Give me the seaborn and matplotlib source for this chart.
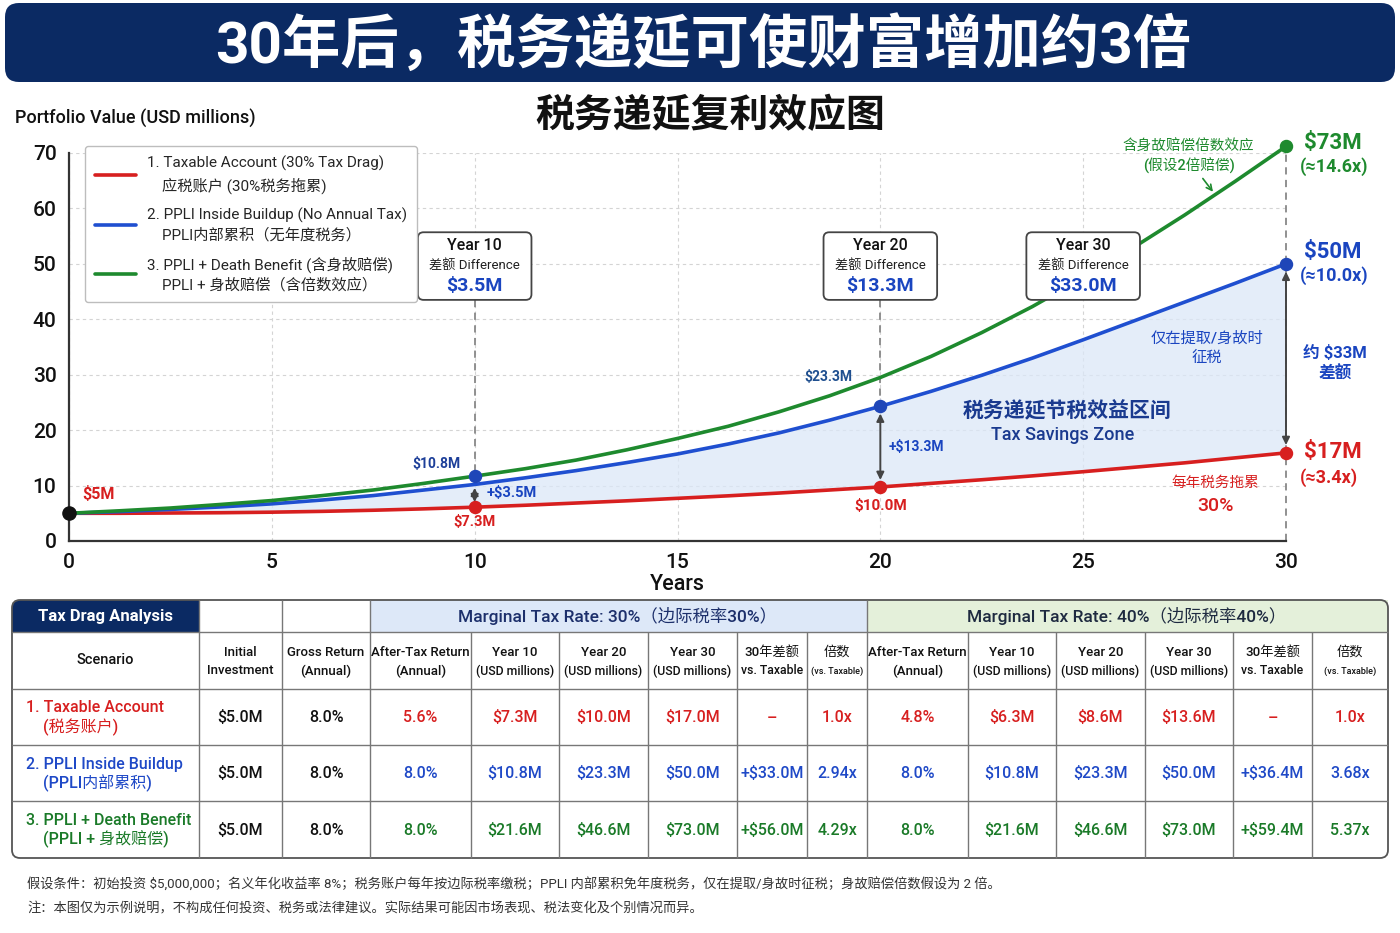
import matplotlib
matplotlib.use("Agg")
import matplotlib.pyplot as plt
import seaborn as sns
from matplotlib.patches import FancyBboxPatch, Rectangle

# curves (USD millions)
years = [0, 1.25, 2.5, 3.75, 5, 6.25, 7.5, 8.75, 10, 11.25, 12.5, 13.75, 15,
         16.25, 17.5, 18.75, 20, 21.25, 22.5, 23.75, 25, 26.25, 27.5, 28.75, 30]
taxable = [5.0, 5.0, 5.05, 5.1, 5.2, 5.35, 5.55, 5.8, 6.1, 6.45, 6.85, 7.25, 7.7,
           8.15, 8.65, 9.2, 9.75, 10.4, 11.05, 11.75, 12.5, 13.3, 14.1, 15.0, 15.9]
ppli = [5.0, 5.3, 5.7, 6.15, 6.7, 7.4, 8.2, 9.2, 10.2, 11.4, 12.7, 14.15, 15.7,
        17.5, 19.5, 21.8, 24.3, 27.0, 29.9, 33.0, 36.3, 39.7, 43.1, 46.5, 50.0]
ppli_db = [5.0, 5.45, 5.95, 6.6, 7.3, 8.2, 9.2, 10.4, 11.7, 13.05, 14.6, 16.45, 18.5,
           20.7, 23.3, 26.2, 29.5, 33.3, 37.6, 42.3, 47.5, 53.0, 58.8, 64.9, 71.2]

# highlighted points
red_pts_x = [10, 20, 30]
red_pts_y = [6.1, 9.75, 15.9]
blue_pts_x = [10, 20, 30]
blue_pts_y = [11.7, 24.3, 50.0]
green_pts_x = [30]
green_pts_y = [71.2]

legend_labels = [
    "1. Taxable Account (30% Tax Drag)\n    应税账户 (30%税务拖累)",
    "2. PPLI Inside Buildup (No Annual Tax)\n    PPLI内部累积（无年度税务）",
    "3. PPLI + Death Benefit (含身故赔偿)\n    PPLI + 身故赔偿（含倍数效应）",
]

box_years = [10, 20, 25]
box_titles = ["Year 10", "Year 20", "Year 30"]
box_diffs = ["$3.5M", "$13.3M", "$33.0M"]

# table contents
scenario_l1 = ["1. Taxable Account", "2. PPLI Inside Buildup", "3. PPLI + Death Benefit"]
scenario_l2 = ["(税务账户)", "(PPLI内部累积)", "(PPLI + 身故赔偿)"]
initial = ["$5.0M", "$5.0M", "$5.0M"]
gross = ["8.0%", "8.0%", "8.0%"]
after_30 = ["5.6%", "8.0%", "8.0%"]
y10_30 = ["$7.3M", "$10.8M", "$21.6M"]
y20_30 = ["$10.0M", "$23.3M", "$46.6M"]
y30_30 = ["$17.0M", "$50.0M", "$73.0M"]
diff_30 = ["–", "+$33.0M", "+$56.0M"]
mult_30 = ["1.0x", "2.94x", "4.29x"]
after_40 = ["4.8%", "8.0%", "8.0%"]
y10_40 = ["$6.3M", "$10.8M", "$21.6M"]
y20_40 = ["$8.6M", "$23.3M", "$46.6M"]
y30_40 = ["$13.6M", "$50.0M", "$73.0M"]
diff_40 = ["–", "+$36.4M", "+$59.4M"]
mult_40 = ["1.0x", "3.68x", "5.37x"]

head_top = ["Initial", "Gross Return", "After-Tax Return", "Year 10", "Year 20", "Year 30",
            "30年差额", "倍数", "After-Tax Return", "Year 10", "Year 20", "Year 30", "30年差额", "倍数"]
head_bot = ["Investment", "(Annual)", "(Annual)", "(USD millions)", "(USD millions)", "(USD millions)",
            "vs. Taxable", "(vs. Taxable)", "(Annual)", "(USD millions)", "(USD millions)",
            "(USD millions)", "vs. Taxable", "(vs. Taxable)"]

RED = "#d71f1f"
BLUE = "#1f4fd0"
GREEN = "#1e8a2e"
NAVY = "#0b2a63"
DBLUE = "#1a3a8f"
TBLUE = "#1a45c0"
row_colors = [RED, "#1f49c7", "#1a7a28"]

sns.set_style("white")
plt.rcParams["font.family"] = ["Roboto", "Noto Sans CJK SC", "DejaVu Sans"]
plt.rcParams["axes.unicode_minus"] = False

fig = plt.figure(figsize=(14, 9.33), dpi=100)

# background layer in pixel units for banner, table and notes
bg = fig.add_axes([0, 0, 1, 1])
bg.set_xlim(0, 1400)
bg.set_ylim(933, 0)
bg.axis("off")

bg.add_patch(FancyBboxPatch((5, 3), 1390, 79, boxstyle="round,pad=0,rounding_size=14",
                            fc=NAVY, ec="none"))
bg.text(703, 45, "30年后，税务递延可使财富增加约3倍", color="white", fontsize=42,
        fontweight="bold", ha="center", va="center")
bg.text(710, 116, "税务递延复利效应图", color="#111", fontsize=28, fontweight="bold",
        ha="center", va="center")
bg.text(15, 119, "Portfolio Value (USD millions)", color="#111", fontsize=13,
        fontweight="medium", ha="left", va="center")

# main chart
ax = fig.add_axes([69 / 1400, 1 - 541 / 933, 1217 / 1400, 388 / 933])
ax.fill_between(years, taxable, ppli, color="#dbe7f7", alpha=0.75, lw=0, zorder=1)
sns.lineplot(x=years, y=taxable, color=RED, lw=2.6, ax=ax, clip_on=False, zorder=3)
sns.lineplot(x=years, y=ppli, color=BLUE, lw=2.6, ax=ax, clip_on=False, zorder=3)
sns.lineplot(x=years, y=ppli_db, color=GREEN, lw=2.6, ax=ax, clip_on=False, zorder=3)

ax.set_xlim(0, 30)
ax.set_ylim(0, 70)
ax.set_xticks(range(0, 31, 5))
ax.set_yticks(range(0, 71, 10))
ax.grid(True, ls=(0, (3, 3)), color="#d4d4d4", lw=0.8)
ax.set_axisbelow(True)
sns.despine(ax=ax)
for s in ["left", "bottom"]:
    ax.spines[s].set_color("#333")
    ax.spines[s].set_linewidth(1.6)
ax.tick_params(labelsize=15, colors="#111", length=5, width=1.3, pad=4)
for lab in ax.get_xticklabels() + ax.get_yticklabels():
    lab.set_fontweight("medium")
ax.set_xlabel("Years", fontsize=15.5, color="#111", labelpad=1, fontweight="medium")
ax.set_ylabel("")

handles = ax.get_lines()[:3]
leg = ax.legend(handles, legend_labels, loc="upper left", bbox_to_anchor=(0.013, 1.018),
                borderaxespad=0, fontsize=11, frameon=True, fancybox=True,
                edgecolor="#bdbdbd", handlelength=2.7, handletextpad=0.7,
                labelspacing=0.9, borderpad=0.65, framealpha=1)
for t in leg.get_texts():
    t.set_linespacing(1.45)

# markers
ax.scatter(red_pts_x, red_pts_y, s=75, color=RED, zorder=6, clip_on=False)
ax.scatter(blue_pts_x, blue_pts_y, s=75, color="#1f46b8", zorder=6, clip_on=False)
ax.scatter(green_pts_x, green_pts_y, s=75, color=GREEN, zorder=6, clip_on=False)
ax.scatter([0], [5.0], s=90, color="#111", zorder=6, clip_on=False)

# dashed guides and difference arrows
dash = (0, (4, 3))
ax.plot([10, 10], [43.5, red_pts_y[0]], ls=dash, color="#888", lw=1.3, zorder=2)
ax.plot([20, 20], [43.5, blue_pts_y[1]], ls=dash, color="#888", lw=1.3, zorder=2)
ax.plot([30, 30], [0, green_pts_y[0]], ls=dash, color="#888", lw=1.3, zorder=2, clip_on=False)
arrow = dict(arrowstyle="<|-|>,head_length=0.45,head_width=0.22", color="#444", lw=1.4,
             shrinkA=0, shrinkB=0)
ax.annotate("", xy=(10, 7.0), xytext=(10, 9.6), arrowprops=arrow)
ax.annotate("", xy=(20, 11.0), xytext=(20, 23.0), arrowprops=arrow)
ax.annotate("", xy=(30, 17.3), xytext=(30, 48.6), arrowprops=arrow)

# year boxes
asp = (70 / 388) / (30 / 1217)
bw, by0, bh = 2.8, 43.5, 12.2
for x, t, d in zip(box_years, box_titles, box_diffs):
    ax.add_patch(FancyBboxPatch((x - bw / 2, by0), bw, bh,
                                boxstyle="round,pad=0,rounding_size=0.14",
                                mutation_aspect=asp, fc="white", ec="#444", lw=1.3,
                                zorder=5, clip_on=False))
    ax.text(x, 53.4, t, fontsize=11.5, color="#111", fontweight="medium", ha="center",
            va="center", zorder=6)
    ax.text(x, 49.8, "差额 Difference", fontsize=9.5, color="#222", ha="center",
            va="center", zorder=6)
    ax.text(x, 46.0, d, fontsize=14, color=TBLUE, fontweight="bold", ha="center",
            va="center", zorder=6)

# point labels
ax.text(0.32, 8.5, "$5M", color=RED, fontsize=11.5, fontweight="bold", va="center")
ax.text(9.65, 13.9, "$10.8M", color="#1d3f99", fontsize=10, fontweight="bold",
        ha="right", va="center")
ax.text(10.3, 8.7, "+$3.5M", color=TBLUE, fontsize=10.5, fontweight="bold", va="center")
ax.text(10, 3.4, "$7.3M", color=RED, fontsize=10.5, fontweight="bold", ha="center",
        va="center")
ax.text(19.3, 29.6, "$23.3M", color="#1f4f8f", fontsize=10, fontweight="bold",
        ha="right", va="center")
ax.text(20.2, 17.0, "+$13.3M", color=TBLUE, fontsize=10, fontweight="bold", va="center")
ax.text(20, 6.3, "$10.0M", color=RED, fontsize=11, fontweight="bold", ha="center",
        va="center")

ax.text(30.44, 71.8, "$73M", color=GREEN, fontsize=16, fontweight="bold", va="center")
ax.text(30.35, 67.5, "(≈14.6x)", color=GREEN, fontsize=13, fontweight="bold", va="center")
ax.text(30.44, 52.1, "$50M", color=TBLUE, fontsize=16, fontweight="bold", va="center")
ax.text(30.35, 47.8, "(≈10.0x)", color=TBLUE, fontsize=13, fontweight="bold", va="center")
ax.text(30.44, 16.1, "$17M", color=RED, fontsize=16, fontweight="bold", va="center")
ax.text(30.35, 11.4, "(≈3.4x)", color=RED, fontsize=13, fontweight="bold", va="center")
ax.text(31.2, 32.0, "约 $33M\n差额", color=TBLUE, fontsize=12, fontweight="bold",
        ha="center", va="center", linespacing=1.35)

ax.text(27.6, 69.3, "含身故赔偿倍数效应\n(假设2倍赔偿)", color=GREEN, fontsize=10.5,
        fontweight="medium", ha="center", va="center", linespacing=1.3)
ax.annotate("", xy=(28.2, 63.0), xytext=(27.95, 65.4),
            arrowprops=dict(arrowstyle="->", color=GREEN, lw=1.2, shrinkA=0, shrinkB=0))
ax.text(28.05, 34.8, "仅在提取/身故时\n征税", color=TBLUE, fontsize=11, fontweight="medium",
        ha="center", va="center", linespacing=1.4)
ax.text(24.6, 23.6, "税务递延节税效益区间", color=DBLUE, fontsize=15, fontweight="bold",
        ha="center", va="center")
ax.text(24.5, 19.1, "Tax Savings Zone", color=DBLUE, fontsize=13, fontweight="medium",
        ha="center", va="center")
ax.text(28.25, 10.5, "每年税务拖累", color=RED, fontsize=10.5, fontweight="medium",
        ha="center", va="center")
ax.text(28.25, 6.4, "30%", color=RED, fontsize=14, fontweight="medium", ha="center",
        va="center")

# table
col_edges = [12, 199, 282, 370, 471, 559, 648, 737, 807, 867, 968, 1056, 1145, 1233, 1312, 1388]
row_edges = [600, 632, 689, 745, 801, 858]
centers = [(a + b) / 2 for a, b in zip(col_edges[:-1], col_edges[1:])]

bg.add_patch(FancyBboxPatch((12, 600), 187, 32, boxstyle="round,pad=0,rounding_size=8",
                            fc=NAVY, ec="none"))
bg.add_patch(Rectangle((100, 600), 99, 32, fc=NAVY, ec="none"))
bg.add_patch(Rectangle((12, 616), 100, 16, fc=NAVY, ec="none"))
bg.add_patch(Rectangle((370, 600), 497, 32, fc="#dde8f8", ec="none"))
bg.add_patch(Rectangle((867, 600), 521, 32, fc="#e4f0da", ec="none"))
bg.text(centers[0], 616, "Tax Drag Analysis", color="white", fontsize=12,
        fontweight="bold", ha="center", va="center")
bg.text(618, 616, "Marginal Tax Rate: 30%（边际税率30%）", color="#1c2f6b", fontsize=12.5,
        fontweight="medium", ha="center", va="center")
bg.text(1127, 616, "Marginal Tax Rate: 40%（边际税率40%）", color="#1e2a40", fontsize=12.5,
        fontweight="medium", ha="center", va="center")

bg.hlines(row_edges[1:-1], 12, 1388, color="#777", lw=1)
bg.vlines([199, 282, 370, 867], 600, 858, color="#777", lw=1)
bg.vlines([471, 559, 648, 737, 807, 968, 1056, 1145, 1233, 1312], 632, 858, color="#777", lw=1)
bg.add_patch(FancyBboxPatch((12, 600), 1376, 258, boxstyle="round,pad=0,rounding_size=8",
                            fc="none", ec="#555", lw=1.3))

bg.text(centers[0], 660, "Scenario", color="#111", fontsize=10.5, fontweight="medium",
        ha="center", va="center")
for i, (t, b) in enumerate(zip(head_top, head_bot)):
    cx = centers[i + 1]
    bg.text(cx, 652, t, color="#111", fontsize=9.5, fontweight="medium", ha="center",
            va="center")
    if b.startswith("(vs"):
        fs = 6.5
    elif b.startswith("(USD") or b.startswith("vs."):
        fs = 8.8
    else:
        fs = 9.5
    bg.text(cx, 671, b, color="#111", fontsize=fs, fontweight="medium", ha="center",
            va="center")

for r in range(3):
    cy = (row_edges[r + 2] + row_edges[r + 3]) / 2
    c = row_colors[r]
    bg.text(26, cy - 9, scenario_l1[r], color=c, fontsize=11.5, fontweight="medium",
            ha="left", va="center")
    bg.text(43, cy + 10, scenario_l2[r], color=c, fontsize=11.5, fontweight="medium",
            ha="left", va="center")
    vals = [initial[r], gross[r], after_30[r], y10_30[r], y20_30[r], y30_30[r], diff_30[r],
            mult_30[r], after_40[r], y10_40[r], y20_40[r], y30_40[r], diff_40[r], mult_40[r]]
    for i, v in enumerate(vals):
        bg.text(centers[i + 1], cy + 1, v, color="#111" if i < 2 else c, fontsize=11.5,
                fontweight="medium", ha="center", va="center")

bg.text(27, 885, "假设条件：初始投资 $5,000,000；名义年化收益率 8%；税务账户每年按边际税率缴税；"
        "PPLI 内部累积免年度税务，仅在提取/身故时征税；身故赔偿倍数假设为 2 倍。",
        color="#333", fontsize=9.5, ha="left", va="center")
bg.text(27, 909, "注：本图仅为示例说明，不构成任何投资、税务或法律建议。实际结果可能因市场表现、税法变化及个别情况而异。",
        color="#333", fontsize=9.5, ha="left", va="center")

fig.savefig("out.png", dpi=100)
